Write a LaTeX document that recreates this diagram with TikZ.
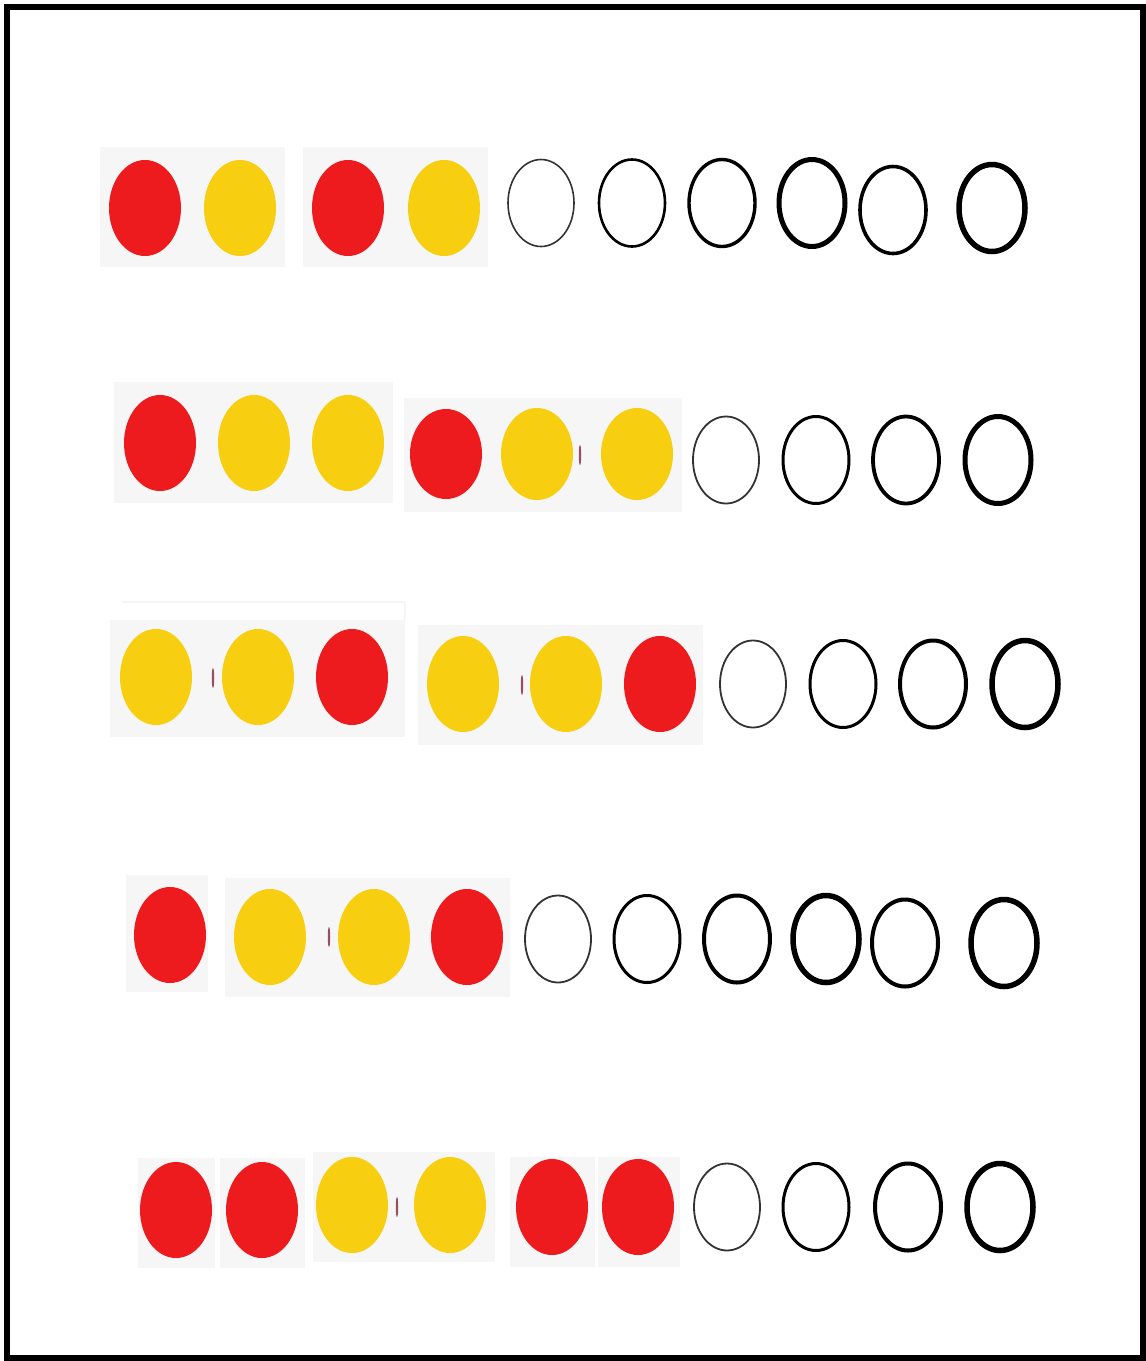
\documentclass[tikz,border=0pt]{standalone}
\usetikzlibrary{shapes.geometric}
\definecolor{ballred}{RGB}{237,27,30}
\definecolor{ballyellow}{RGB}{247,206,16}
\definecolor{boxgray}{RGB}{246,246,247}
\definecolor{speckcol}{RGB}{150,80,100}
\tikzset{
  ball/.style={ellipse, inner sep=0pt, minimum width=72pt, minimum height=96pt},
  redball/.style={ball, fill=ballred},
  yellowball/.style={ball, fill=ballyellow},
  ring/.style={ellipse, inner sep=0pt, draw=black, minimum width=66pt, minimum height=87pt, line width=#1},
  ring/.default=3pt,
  graybox/.style={fill=boxgray},
  speck/.style={ellipse, inner sep=0pt, fill=speckcol, minimum width=2.5pt, minimum height=20pt},
}
\begin{document}
\begin{tikzpicture}[x=1pt,y=-1pt]
\useasboundingbox (0,0) rectangle (1146,1361);
\fill[white] (0,0) rectangle (1146,1361);
\draw[line width=6pt] (7,7) rectangle (1143,1358);

% ---------- Row 1 ----------
\fill[graybox] (100,147) rectangle (285,267);
\fill[graybox] (303,147) rectangle (488,267);
\node[redball]    (r1b1) at (145,208) {};
\node[yellowball] (r1b2) at (240,208) {};
\node[redball]    (r1b3) at (348,208) {};
\node[yellowball] (r1b4) at (444,208) {};
\node[ring=1.6pt, draw=black!80] (r1o1) at (541,203) {};
\node[ring=2.6pt] (r1o2) at (632,203) {};
\node[ring=3.4pt] (r1o3) at (722,203) {};
\node[ring=5pt]   (r1o4) at (812,203) {};
\node[ring=3.6pt] (r1o5) at (893,210) {};
\node[ring=5.5pt] (r1o6) at (992,208) {};

% ---------- Row 2 ----------
\fill[graybox] (114,382) rectangle (393,503);
\fill[graybox] (404,398) rectangle (682,512);
\node[redball]    (r2b1) at (160,443) {};
\node[yellowball] (r2b2) at (254,443) {};
\node[yellowball] (r2b3) at (348,443) {};
\node[redball, minimum height=90pt]    (r2b4) at (446,454) {};
\node[yellowball, minimum height=92pt] (r2b5) at (537,454) {};
\node[yellowball, minimum height=92pt] (r2b6) at (637,454) {};
\node[speck] (r2s1) at (580,455) {};
\node[ring=1.8pt, draw=black!80] (r2o1) at (726,460) {};
\node[ring=3pt]   (r2o2) at (816,460) {};
\node[ring=3.8pt] (r2o3) at (906,460) {};
\node[ring=5pt]   (r2o4) at (998,460) {};

% ---------- Row 3 ----------
\draw[gray!8, line width=1.2pt] (122,602) -- (405,602) -- (405,620);
\fill[graybox] (110,620) rectangle (405,737);
\fill[graybox] (418,625) rectangle (703,745);
\node[yellowball] (r3b1) at (156,677) {};
\node[yellowball] (r3b2) at (258,677) {};
\node[redball]    (r3b3) at (352,677) {};
\node[yellowball] (r3b4) at (463,684) {};
\node[yellowball] (r3b5) at (566,684) {};
\node[redball]    (r3b6) at (660,684) {};
\node[speck] (r3s1) at (213,678) {};
\node[speck] (r3s2) at (522,685) {};
\node[ring=1.8pt, draw=black!80] (r3o1) at (753,684) {};
\node[ring=3pt]   (r3o2) at (843,684) {};
\node[ring=4pt]   (r3o3) at (933,684) {};
\node[ring=5.5pt] (r3o4) at (1025,684) {};

% ---------- Row 4 ----------
\fill[graybox] (126,875) rectangle (208,992);
\fill[graybox] (225,878) rectangle (510,997);
\node[redball]    (r4b1) at (170,935) {};
\node[yellowball] (r4b2) at (270,937) {};
\node[yellowball] (r4b3) at (374,937) {};
\node[redball]    (r4b4) at (467,937) {};
\node[speck] (r4s1) at (329,937) {};
\node[ring=1.8pt, draw=black!80] (r4o1) at (558,939) {};
\node[ring=3pt]   (r4o2) at (647,939) {};
\node[ring=4pt]   (r4o3) at (737,939) {};
\node[ring=5.5pt] (r4o4) at (826,939) {};
\node[ring=4pt]   (r4o5) at (905,943) {};
\node[ring=5.5pt] (r4o6) at (1004,943) {};

% ---------- Row 5 ----------
\fill[graybox] (138,1158) rectangle (215,1268);
\fill[graybox] (220,1158) rectangle (305,1268);
\fill[graybox] (313,1152) rectangle (495,1262);
\fill[graybox] (510,1157) rectangle (595,1267);
\fill[graybox] (598,1157) rectangle (680,1267);
\node[redball]    (r5b1) at (176,1210) {};
\node[redball]    (r5b2) at (262,1210) {};
\node[yellowball] (r5b3) at (352,1205) {};
\node[yellowball] (r5b4) at (450,1205) {};
\node[redball]    (r5b5) at (552,1207) {};
\node[redball]    (r5b6) at (638,1207) {};
\node[speck] (r5s1) at (397,1207) {};
\node[ring=1.8pt, draw=black!80] (r5o1) at (727,1207) {};
\node[ring=3pt]   (r5o2) at (816,1207) {};
\node[ring=4pt]   (r5o3) at (908,1207) {};
\node[ring=5.5pt] (r5o4) at (1000,1207) {};
\end{tikzpicture}
\end{document}
